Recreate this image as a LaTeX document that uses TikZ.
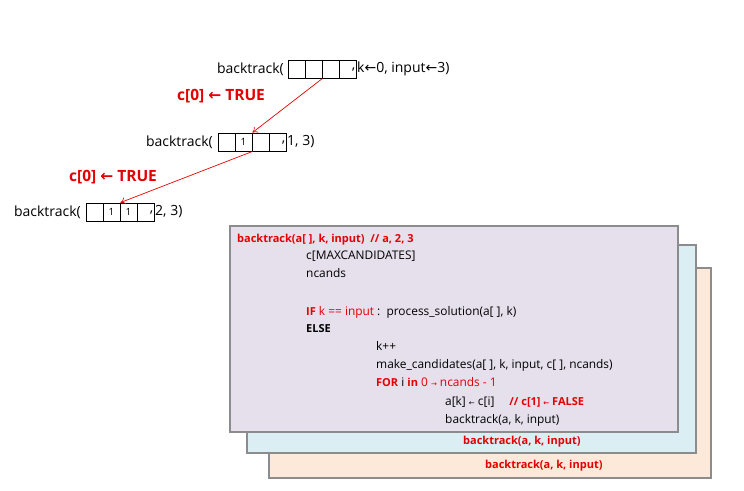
\documentclass[tikz,border=0pt]{standalone}
\usepackage{fontspec}
\setmainfont{Open Sans}
\newfontfamily\sym{DejaVu Sans}
\usetikzlibrary{arrows.meta}
\definecolor{cred}{RGB}{228,0,0}
\definecolor{pone}{RGB}{229,224,236}
\definecolor{ptwo}{RGB}{218,238,243}
\definecolor{pthree}{RGB}{253,233,217}
\definecolor{pborder}{RGB}{140,140,140}
\tikzset{
  cell/.style={draw, line width=0.9pt, minimum width=17pt, minimum height=18pt, inner sep=0pt, font=\fontsize{10}{11}\selectfont},
  call/.style={inner sep=0pt, font=\fontsize{14}{16}\selectfont},
  lbl/.style={inner sep=0pt, text=cred, font=\fontsize{15.5}{17}\selectfont\bfseries},
  link/.style={cred, line width=0.7pt, -{To[length=5pt,width=7pt]}},
  panel/.style={draw=pborder, line width=2pt},
  code/.style={inner sep=0pt, anchor=base west, font=\fontsize{11.9}{13}\selectfont},
  rb/.style={text=cred, font=\fontsize{11}{13}\selectfont\bfseries},
  bb/.style={font=\fontsize{11}{13}\selectfont\bfseries},
}
\newcommand{\ar}{{\sym\char"2190}}
\newcommand{\sar}{{\sym\fontsize{7}{8}\selectfont\char"2190}}
\newcommand{\rar}{{\sym\fontsize{7}{8}\selectfont\char"2192}}
\newcommand{\kb}[1]{{\fontsize{11}{13}\selectfont\bfseries #1}}
\begin{document}
\begin{tikzpicture}[x=1pt,y=-1pt]
\useasboundingbox (0,0) rectangle (744,490);
% row 1
\node[cell] (a1) at (296.5,69) {};
\node[cell] (a2) at (313.5,69) {};
\node[cell] (a3) at (330.5,69) {};
\node[cell] (a4) at (347.5,69) {};
\node[call, anchor=east] (ta) at (284,69) {backtrack(};
\node[call, anchor=east] (ca) at (355.5,70) {,};
\node[call, anchor=west] (ra) at (357,69) {k\ar0, input\ar3)};
% row 2
\node[cell] (b1) at (226.5,142) {};
\node[cell] (b2) at (243.5,142) {1};
\node[cell] (b3) at (260.5,142) {};
\node[cell] (b4) at (277.5,142) {};
\node[call, anchor=east] (tb) at (213,142) {backtrack(};
\node[call, anchor=east] (cb) at (285.5,143) {,};
\node[call, anchor=west] (rb) at (287,142) {1, 3)};
% row 3
\node[cell] (c1) at (94.5,212) {};
\node[cell] (c2) at (111.5,212) {1};
\node[cell] (c3) at (128.5,212) {1};
\node[cell] (c4) at (145.5,212) {};
\node[call, anchor=east] (tc) at (81,212) {backtrack(};
\node[call, anchor=east] (cc) at (153.5,213) {,};
\node[call, anchor=west] (rc) at (155,212) {2, 3)};
% labels
\node[lbl, anchor=west] (l1) at (177,96) {c[0] \ar{} TRUE};
\node[lbl, anchor=west] (l2) at (69,177) {c[0] \ar{} TRUE};
% arrows
\draw[link] (a2.south east) -- (b2.north east);
\draw[link] (b2.south east) -- (c2.north east);
% panels
\draw[panel, fill=pthree] (269,268) rectangle (711,478);
\draw[panel, fill=ptwo] (247,245) rectangle (696,453);
\draw[panel, fill=pone] (230,226) rectangle (678,432);
% code
\node[code, rb] (k1) at (237,242) {backtrack(a[ ], k, input)\ \ // a, 2, 3};
\node[code] (k2) at (306,259) {c[MAXCANDIDATES]};
\node[code] (k3) at (306,277) {ncands};
\node[code] (k4) at (306,315) {\textcolor{cred}{\kb{IF}} \textcolor{cred}{k == input} :\ \ process\_solution(a[ ], k)};
\node[code] (k5) at (306,332) {\kb{ELSE}};
\node[code] (k6) at (376,350) {k++};
\node[code] (k7) at (376,368) {make\_candidates(a[ ], k, input, c[ ], ncands)};
\node[code] (k8) at (376,386) {\textcolor{cred}{\kb{FOR}} i \textcolor{cred}{\kb{in}} \textcolor{cred}{0 \rar{} ncands - 1}};
\node[code] (k9) at (445,405) {a[k] \sar{} c[i]\quad\ \textcolor{cred}{\kb{// c[1] \sar{} FALSE}}};
\node[code] (k10) at (445,423) {backtrack(a, k, input)};
\node[code, rb] (k11) at (463,444) {backtrack(a, k, input)};
\node[code, rb] (k12) at (485,468) {backtrack(a, k, input)};
\end{tikzpicture}
\end{document}
